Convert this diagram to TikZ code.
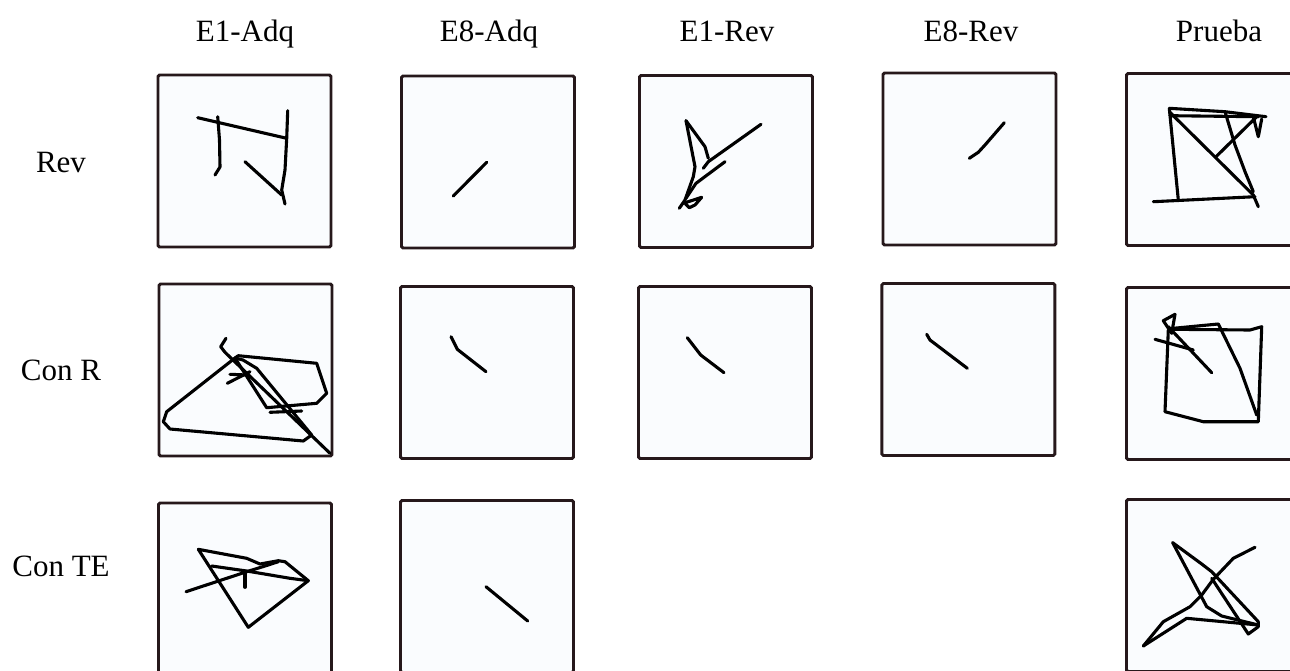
\documentclass[tikz,border=0pt]{standalone}
\usepackage{fontspec}
\setmainfont{Liberation Serif}
\definecolor{framecol}{RGB}{38,24,27}
\definecolor{panelfill}{RGB}{250,252,254}
\tikzset{
  panel/.style={draw=framecol, fill=panelfill, line width=2.9pt,
    rounded corners=1.5pt, minimum width=173pt, minimum height=172pt,
    inner sep=0pt},
  ink/.style={draw=black, line width=3.1pt, line cap=round, line join=round},
  label/.style={font=\fontsize{31}{36}\selectfont, inner sep=0pt, text=black,
    anchor=base},
}
\begin{document}
\begin{tikzpicture}[x=1pt,y=-1pt]
\useasboundingbox (0,0) rectangle (1290,670);
\clip (0,0) rectangle (1290,670);
\fill[white] (0,0) rectangle (1290,670);

% column headings
\node[label] (h1) at (245,41) {E1-Adq};
\node[label] (h2) at (489,41) {E8-Adq};
\node[label] (h3) at (727,41) {E1-Rev};
\node[label] (h4) at (971,41) {E8-Rev};
\node[label] (h5) at (1219,41) {Prueba};

% row labels
\node[label] (l1) at (61,172.5) {Rev};
\node[label] (l2) at (61,380) {Con R};
\node[label] (l3) at (61,576.5) {Con TE};

% panels
\node[panel] (p11) at (244.5,161) {};
\node[panel] (p12) at (488,162) {};
\node[panel] (p13) at (726,161.5) {};
\node[panel] (p14) at (969.5,159) {};
\node[panel] (p15) at (1213,159.5) {};

\node[panel] (p21) at (245.5,370) {};
\node[panel] (p22) at (487,372.5) {};
\node[panel] (p23) at (725,372.5) {};
\node[panel] (p24) at (968.3,369.5) {};
\node[panel] (p25) at (1213,373.5) {};

\node[panel] (p31) at (245,589) {};
\node[panel] (p32) at (487,586.5) {};
\node[panel] (p35) at (1213,585.5) {};

% ---- Rev / E1-Adq
\draw[ink] (197.7,117.7) -- (286.7,138.3);
\draw[ink] (217.7,116.7) -- (219.5,140) -- (220,167) -- (215,175);
\draw[ink] (287.7,110.7) -- (286.7,138.3) -- (285,170) -- (281.7,190) -- (285,204);
\draw[ink] (245,161.7) -- (281.7,195);

% ---- Rev / E8-Adq
\draw[ink] (453.3,196) -- (486.7,162.3);

% ---- Rev / E1-Rev
\draw[ink] (761,124.3) -- (708.3,161.7) -- (703.3,168.3);
\draw[ink] (686,120.7) -- (705,146.7) -- (708.3,158.3);
\draw[ink] (686,120.7) -- (695,166.7) -- (693.3,176.7) -- (685,200) -- (679.3,208.3);
\draw[ink] (725,161.7) -- (696,183.3) -- (686,198.3);
\draw[ink] (683.3,203.3) -- (701.7,197.3) -- (695,205) -- (689.3,207.7) -- (685,203.3);

% ---- Rev / E8-Rev
\draw[ink] (969.3,158.3) -- (978.3,152.3) -- (985,145) -- (1004.3,122.7);

% ---- Rev / Prueba
\draw[ink] (1153.3,201.7) -- (1255,196.7);
\draw[ink] (1169.3,108.3) -- (1178.3,200);
\draw[ink] (1169.3,108.3) -- (1225,111.7) -- (1266,116.7);
\draw[ink] (1170,115.7) -- (1258.3,116.7);
\draw[ink] (1169.3,111.7) -- (1253.3,195) -- (1258.3,206.7);
\draw[ink] (1225,111.7) -- (1235,145) -- (1245,171.7) -- (1253.3,191.7);
\draw[ink] (1216,156.7) -- (1256.7,116.7);
\draw[ink] (1253.3,116.7) -- (1258.3,136.7) -- (1261.7,119);

% ---- Con R / E1-Adq
\draw[ink] (226,338.3) -- (220.7,346.7) -- (225,352.3) -- (330,453.3);
\draw[ink] (235,358) -- (166.7,411.7) -- (163.3,421.7) -- (170,429)
  -- (303.3,441) -- (311.7,435) -- (256.7,368.3) -- (243,360) -- cycle;
\draw[ink] (235,358) -- (238.3,355.7) -- (316.7,363.3) -- (326.7,393.3)
  -- (316.7,403.3) -- (266.7,407.7) -- (235,358);
\draw[ink] (227.3,383.3) -- (250,371.7);
\draw[ink] (230,374.3) -- (246.7,375);
\draw[ink] (270,412.3) -- (301.7,411);

% ---- Con R / E8-Adq
\draw[ink] (451,336.7) -- (457.3,349.3) -- (486,371.7);

% ---- Con R / E1-Rev
\draw[ink] (687.3,337.7) -- (700.7,355) -- (724,372.7);

% ---- Con R / E8-Rev
\draw[ink] (926.7,334.3) -- (930,340) -- (967.3,368.3);

% ---- Con R / Prueba
\draw[ink] (1168.3,330) -- (1165,411.7) -- (1203.3,421.7) -- (1258.3,421.7)
  -- (1261.7,326.7) -- (1250,330) -- (1173.3,329.3);
\draw[ink] (1173.3,328.3) -- (1218.3,324) -- (1240,368.3) -- (1256.7,415);
\draw[ink] (1163.3,320.7) -- (1175,314.3) -- (1171.7,333.3) -- cycle;
\draw[ink] (1155,339.3) -- (1193.3,350);
\draw[ink] (1168.3,326.7) -- (1211.7,372.7);

% ---- Con TE / E1-Adq
\draw[ink] (198.3,549.3) -- (246.7,558.3) -- (260,564) -- (278.3,560.7)
  -- (285,561.7) -- (308.3,580.7) -- (248.3,627.3) -- cycle;
\draw[ink] (211.7,566) -- (246.7,571) -- (290,578.3) -- (308.3,580.7);
\draw[ink] (186,591.7) -- (246.7,571.7) -- (265,566) -- (278.3,561.7);
\draw[ink] (245,571.7) -- (245,587.3);

% ---- Con TE / E8-Adq
\draw[ink] (486,586.7) -- (527.7,621);

% ---- Con TE / Prueba
\draw[ink] (1172.7,542.7) -- (1201.7,564) -- (1211.7,571.7) -- (1258.3,621.7);
\draw[ink] (1172.7,542.7) -- (1206.7,606.7) -- (1221.7,616) -- (1258.3,625);
\draw[ink] (1143.3,646) -- (1163.3,621.7) -- (1190,606.7) -- (1201.7,595)
  -- (1213.3,579.3) -- (1233.3,558.3) -- (1255,547.3);
\draw[ink] (1143.3,646) -- (1186.7,618.3) -- (1258.3,625);
\draw[ink] (1211.7,578.3) -- (1248.3,634) -- (1258.3,626.7) -- (1258.3,621.7);
\end{tikzpicture}
\end{document}
